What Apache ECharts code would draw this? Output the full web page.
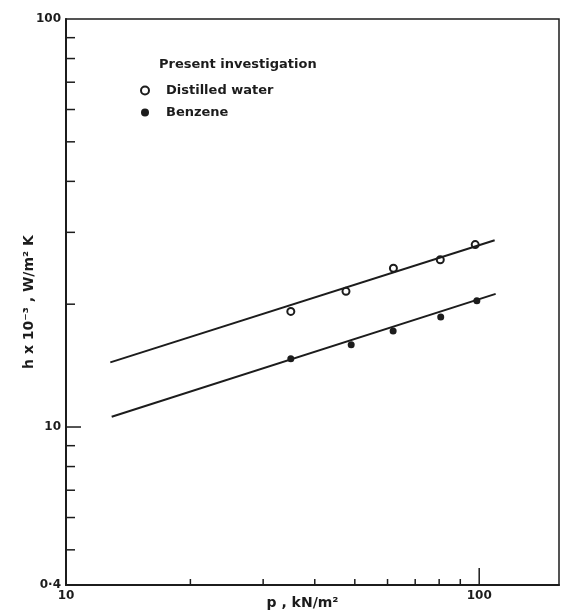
<!DOCTYPE html>
<html>
<head>
<meta charset="utf-8">
<script src="https://cdn.jsdelivr.net/npm/echarts@6/dist/echarts.min.js"></script>
<style>
  html, body { margin: 0; padding: 0; background: #fff; }
  #chart { width: 565px; height: 614px; }
</style>
</head>
<body>
<div id="chart"></div>
<script>
// measured points, p (kN/m2) vs h x 10^-3 (W/m2 K)
var waterP = [35.0, 47.6, 62.0, 80.5, 97.8];
var waterH = [19.2, 21.5, 24.5, 25.7, 28.0];
var benzeneP = [35.0, 49.0, 61.9, 80.7, 98.7];
var benzeneH = [14.7, 15.9, 17.2, 18.6, 20.4];

// fitted lines (end points)
var waterFitP = [12.8, 109.0];
var waterFitH = [14.4, 28.7];
var benzeneFitP = [12.9, 109.6];
var benzeneFitH = [10.6, 21.2];

// axis ticks
var xTicks = [20, 30, 40, 50, 60, 70, 80, 90, 100];
var yTicks = [5, 6, 7, 8, 9, 10, 20, 30, 40, 50, 60, 70, 80, 90];

var ink = '#1c1c1c';
var font = 'DejaVu Sans, sans-serif';

function pairs(xs, ys) {
	var out = [];
	for (var i = 0; i < xs.length; i++) out.push([xs[i], ys[i]]);
	return out;
}

var chart = echarts.init(document.getElementById('chart'));
var option = {
	animation: false,
	backgroundColor: '#fff',
	title: {
		text: 'Present investigation',
		left: 154,
		top: 53,
		textStyle: { color: ink, fontFamily: font, fontSize: 13, fontWeight: 'bold' }
	},
	legend: {
		data: ['Distilled water', 'Benzene'],
		orient: 'vertical',
		left: 135,
		top: 79,
		itemWidth: 8,
		itemHeight: 8,
		itemGap: 9,
		textStyle: { color: ink, fontFamily: font, fontSize: 13, fontWeight: 'bold', padding: [0, 0, 0, 12] }
	},
	grid: {
		left: 66,
		top: 19,
		right: 6,
		bottom: 29,
		outerBoundsMode: 'none',
		show: true,
		borderColor: ink,
		borderWidth: 1.5
	},
	xAxis: {
		type: 'log',
		logBase: 10,
		min: 10,
		max: 156,
		name: 'p , kN/m²',
		nameLocation: 'middle',
		nameGap: 11,
		nameMoveOverlap: false,
		nameTextStyle: { color: ink, fontFamily: font, fontSize: 14, fontWeight: 'bold', padding: [0, 20, 0, 0] },
		axisLine: { lineStyle: { color: ink, width: 2 } },
		axisTick: { show: false },
		splitLine: { show: false },
		axisLabel: {
			color: ink, fontFamily: font, fontSize: 12, fontWeight: 'bold', margin: 5,
			formatter: function (v) { return (v === 10 || v === 100) ? String(v) : ''; }
		}
	},
	yAxis: {
		type: 'log',
		logBase: 10,
		min: 4.1,
		max: 100,
		name: 'h x 10⁻³ , W/m² K',
		nameLocation: 'middle',
		nameGap: 30,
		nameMoveOverlap: false,
		nameTextStyle: { color: ink, fontFamily: font, fontSize: 14, fontWeight: 'bold' },
		axisLine: { lineStyle: { color: ink, width: 2 } },
		axisTick: { show: false },
		splitLine: { show: false },
		axisLabel: {
			color: ink, fontFamily: font, fontSize: 12, fontWeight: 'bold', margin: 5,
			showMinLabel: true,
			formatter: function (v) {
				if (v < 5) return '0·4';
				return (Math.abs(v - 10) < 0.01 || Math.abs(v - 100) < 0.1) ? String(Math.round(v)) : '';
			}
		}
	},
	series: [{
		type: 'custom',
		silent: true,
		data: xTicks.map(function (v) { return [v, 4.1]; }),
		renderItem: function (params, api) {
			var p = api.coord([api.value(0), api.value(1)]);
			var len = api.value(0) === 100 ? 17 : 6;
			return { type: 'line', shape: { x1: p[0], y1: p[1], x2: p[0], y2: p[1] - len },
				style: { stroke: ink, lineWidth: 1.5 } };
		}
	}, {
		type: 'custom',
		silent: true,
		data: yTicks.map(function (v) { return [10, v]; }),
		renderItem: function (params, api) {
			var p = api.coord([api.value(0), api.value(1)]);
			var len = api.value(1) === 10 ? 15 : 9;
			return { type: 'line', shape: { x1: p[0], y1: p[1], x2: p[0] + len, y2: p[1] },
				style: { stroke: ink, lineWidth: 1.5 } };
		}
	}, {
		name: 'waterFit',
		type: 'line',
		data: pairs(waterFitP, waterFitH),
		symbol: 'none',
		lineStyle: { color: ink, width: 2 }
	}, {
		name: 'benzeneFit',
		type: 'line',
		data: pairs(benzeneFitP, benzeneFitH),
		symbol: 'none',
		lineStyle: { color: ink, width: 2 }
	}, {
		name: 'Distilled water',
		type: 'scatter',
		data: pairs(waterP, waterH),
		symbol: 'emptyCircle',
		symbolSize: 7,
		itemStyle: { color: ink, borderWidth: 1.5, opacity: 1 }
	}, {
		name: 'Benzene',
		type: 'scatter',
		data: pairs(benzeneP, benzeneH),
		symbol: 'circle',
		symbolSize: 7,
		itemStyle: { color: ink, opacity: 1 }
	}]
};
chart.setOption(option);
</script>
</body>
</html>
